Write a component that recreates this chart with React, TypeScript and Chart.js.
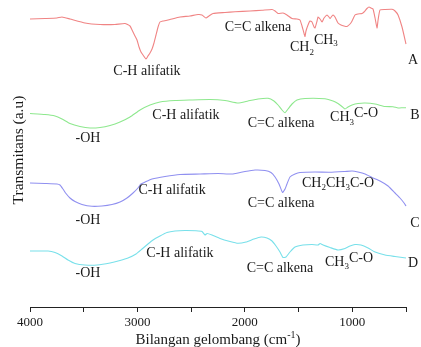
import React, { useEffect, useRef } from "react";
import { Chart, registerables } from "chart.js";
Chart.register(...registerables);

// Wavenumbers (cm-1) and transmittance (a.u., offset traces)
const waveA = [4000, 3860, 3749, 3702, 3628, 3488, 3348, 3209, 3116, 3069, 3050, 3023, 3004, 2985, 2967, 2948, 2920, 2902, 2883, 2864, 2846, 2827, 2808, 2790, 2762, 2734, 2697, 2604, 2511, 2436, 2399, 2362, 2334, 2296, 2185, 2092, 1952, 1840, 1747, 1719, 1691, 1645, 1608, 1561, 1515, 1487, 1468, 1450, 1440, 1431, 1412, 1394, 1375, 1356, 1347, 1328, 1319, 1300, 1282, 1263, 1235, 1217, 1207, 1189, 1179, 1161, 1133, 1105, 1077, 1049, 1021, 1002, 975, 947, 909, 891, 863, 844, 826, 807, 788, 770, 760, 742, 695, 630, 602, 574, 537, 500];
const transA = [288, 288.5, 289, 290, 288, 284, 282.5, 282.5, 283.5, 281, 277, 271, 267, 260, 255, 252, 248, 251, 254, 258, 264, 272, 280, 285, 286, 286.5, 287.5, 290, 291, 292.5, 292, 289, 291, 293.5, 294.5, 295.3, 296, 296.7, 297.5, 296, 293.5, 294, 292, 288.5, 288, 287, 281, 274, 270.5, 276, 282, 286, 285, 280, 279, 286, 290, 288, 285, 289, 292, 290, 288.5, 291, 292, 290, 284, 282, 281, 280.5, 283, 286, 292, 293, 293.5, 295, 298.5, 300, 299, 298, 289, 279, 287, 297, 297.5, 297.7, 296, 292, 280, 263];

const waveB = [4000, 3860, 3767, 3702, 3628, 3535, 3441, 3348, 3255, 3162, 3069, 2976, 2883, 2790, 2650, 2511, 2324, 2185, 2064, 1971, 1878, 1784, 1729, 1691, 1654, 1626, 1598, 1561, 1515, 1440, 1254, 1179, 1133, 1096, 1068, 1040, 1002, 947, 881, 788, 695, 621, 574, 528, 500];
const transB = [193.5, 192.5, 191, 188, 183.5, 180.5, 179, 179.5, 181.5, 185, 190, 197, 202, 205, 206.5, 207, 207.5, 206.5, 204, 206, 208, 208.7, 206, 202, 197, 194.3, 198, 203, 207, 208.5, 208.2, 206, 203.5, 200.5, 198, 200, 202, 203.5, 204, 203, 200.5, 200.3, 199, 199.3, 199.3];

const waveC = [4000, 3860, 3749, 3721, 3693, 3665, 3628, 3581, 3516, 3423, 3330, 3237, 3162, 3097, 3041, 2995, 2967, 2929, 2864, 2743, 2604, 2417, 2250, 2110, 1999, 1905, 1812, 1757, 1719, 1682, 1649, 1626, 1608, 1580, 1533, 1487, 1347, 1207, 1068, 1002, 947, 881, 816, 742, 667, 602, 556, 518, 500];
const transC = [124, 123.5, 123, 122, 118, 113.5, 109, 105.5, 102.5, 100.7, 101, 102.5, 105, 109, 114, 119, 123, 125, 128, 130.5, 132.5, 133, 133.5, 133, 135.5, 137, 136.5, 134.5, 130, 123, 114.5, 118, 123, 130, 133, 134.5, 135, 134.7, 135.5, 136, 135, 133, 129.5, 126, 121, 114, 109, 104, 101];

const waveD = [4000, 3832, 3767, 3702, 3646, 3581, 3488, 3376, 3255, 3162, 3088, 3013, 2957, 2902, 2855, 2790, 2725, 2650, 2557, 2455, 2399, 2371, 2352, 2306, 2231, 2138, 2064, 1989, 1915, 1850, 1794, 1747, 1710, 1673, 1645, 1617, 1580, 1533, 1459, 1375, 1319, 1300, 1272, 1207, 1133, 1068, 1021, 975, 919, 853, 788, 695, 602, 500];
const transD = [56, 56, 54.5, 51, 47, 43.5, 42, 42, 44, 46.5, 49, 53, 58, 63, 67, 71, 74.5, 76, 76.5, 76.2, 75.5, 72, 73.5, 72, 68.5, 65.5, 63.7, 65, 68, 70, 69, 66, 61, 55, 49.5, 50, 55, 60, 62, 62.5, 62, 63.5, 62, 59.5, 57, 58.5, 61, 62.5, 62, 59, 55, 52, 50.5, 49];

const seriesNames = ["A", "B", "C", "D"];
const seriesColors = ["#f08484", "#8ee88e", "#9090f0", "#78e0ea"];
const xTicks = [4000, 3000, 2000, 1000];

type Part = [string, number, boolean];
type Ann = { parts: Part[]; wn: number; t: number; align: "center" | "left" };

const annotations: Ann[] = [
  { parts: [["C-H alifatik", 0, false]], wn: 2911, t: 236, align: "center" },
  { parts: [["C=C alkena", 0, false]], wn: 1878, t: 280, align: "center" },
  { parts: [["CH", 0, false], ["2", 6, true], ["CH", -7, false], ["3", -3, true]], wn: 1580, t: 260, align: "left" },
  { parts: [["A", 0, false]], wn: 435, t: 247, align: "center" },

  { parts: [["-OH", 0, false]], wn: 3460, t: 169, align: "center" },
  { parts: [["C-H alifatik", 0, false]], wn: 2548, t: 192, align: "center" },
  { parts: [["C=C alkena", 0, false]], wn: 1663, t: 184, align: "center" },
  { parts: [["CH", 0, false], ["3", 6, true], ["C-O", -4, false]], wn: 1207, t: 190, align: "left" },
  { parts: [["B", 0, false]], wn: 416, t: 192, align: "center" },

  { parts: [["-OH", 0, false]], wn: 3460, t: 87, align: "center" },
  { parts: [["C-H alifatik", 0, false]], wn: 2678, t: 117, align: "center" },
  { parts: [["C=C alkena", 0, false]], wn: 1663, t: 104, align: "center" },
  { parts: [["CH", 0, false], ["2", 5, true], ["CH", 0, false], ["3", 5, true], ["C-O", 0, false]], wn: 1468, t: 124, align: "left" },
  { parts: [["C", 0, false]], wn: 416, t: 84, align: "center" },

  { parts: [["-OH", 0, false]], wn: 3460, t: 34, align: "center" },
  { parts: [["C-H alifatik", 0, false]], wn: 2604, t: 54, align: "center" },
  { parts: [["C=C alkena", 0, false]], wn: 1673, t: 39, align: "center" },
  { parts: [["CH", 0, false], ["3", 5, true], ["C-O", -4, false]], wn: 1254, t: 45, align: "left" },
  { parts: [["D", 0, false]], wn: 435, t: 44, align: "center" },
];

const FONT = "'Liberation Serif', 'Times New Roman', serif";
const TEXT = "#1a1a1a";

function drawParts(ctx: CanvasRenderingContext2D, parts: Part[], x: number, y: number, align: string, size: number, small: number) {
  const widths = parts.map(([s, , sm]) => {
    ctx.font = `${sm ? small : size}px ${FONT}`;
    return ctx.measureText(s).width;
  });
  const total = widths.reduce((a, b) => a + b, 0);
  let cx = align === "center" ? x - total / 2 : x;
  parts.forEach(([s, dy, sm], i) => {
    ctx.font = `${sm ? small : size}px ${FONT}`;
    ctx.fillText(s, cx, y + dy);
    cx += widths[i];
  });
}

const textPlugin = {
  id: "ftirText",
  afterDraw(chart: any) {
    const ctx: CanvasRenderingContext2D = chart.ctx;
    const xs = chart.scales.x;
    const ys = chart.scales.y;
    const area = chart.chartArea;
    ctx.save();
    ctx.fillStyle = TEXT;
    ctx.textBaseline = "middle";
    ctx.textAlign = "left";
    annotations.forEach((a) => {
      drawParts(ctx, a.parts, xs.getPixelForValue(a.wn), ys.getPixelForValue(a.t), a.align, 14, 9);
    });
    // x axis title
    drawParts(ctx, [["Bilangan gelombang (cm", 0, false], ["-1", -5, true], [")", 0, false]], (area.left + area.right) / 2, 340, "center", 15, 10);
    // y axis title
    ctx.translate(19, 150);
    ctx.rotate(-Math.PI / 2);
    ctx.textAlign = "center";
    ctx.font = `15.5px ${FONT}`;
    ctx.fillText("Transmitans (a.u)", 0, 0);
    ctx.restore();
  },
};

export default function App() {
  const ref = useRef<HTMLCanvasElement>(null);
  useEffect(() => {
    if (!ref.current) return;
    const waves = [waveA, waveB, waveC, waveD];
    const trans = [transA, transB, transC, transD];
    const chart = new Chart(ref.current, {
      type: "line",
      data: {
        datasets: seriesNames.map((n, i) => ({
          label: n,
          data: waves[i].map((w, j) => ({ x: w, y: trans[i][j] })),
          borderColor: seriesColors[i],
          borderWidth: 1.1,
          pointRadius: 0,
          tension: 0.15,
          fill: false,
          clip: false as any,
        })),
      },
      options: {
        animation: false,
        responsive: false,
        devicePixelRatio: 1,
        layout: { padding: { left: 30, right: 15, top: 0, bottom: 0 } },
        plugins: { legend: { display: false }, tooltip: { enabled: false } },
        scales: {
          x: {
            type: "linear",
            min: 500,
            max: 4000,
            reverse: true,
            afterFit: (s: any) => { s.height = 40; },
            border: { display: true, color: "#222", width: 1 },
            grid: { drawOnChartArea: false, drawTicks: true, tickLength: 5, color: "#222" },
            ticks: {
              stepSize: 500,
              autoSkip: false,
              maxRotation: 0,
              padding: 3,
              color: TEXT,
              font: { family: FONT, size: 13 },
              callback: (v: any) => (xTicks.includes(Number(v)) ? String(v) : ""),
            },
          },
          y: { display: false, min: 0, max: 307 },
        },
      },
      plugins: [textPlugin],
    });
    return () => chart.destroy();
  }, []);
  return (
    <div style={{ position: "absolute", left: 0, top: 0, width: 421, height: 347, background: "#fff" }}>
      <canvas ref={ref} width={421} height={347} style={{ display: "block", width: 421, height: 347 }} />
    </div>
  );
}
